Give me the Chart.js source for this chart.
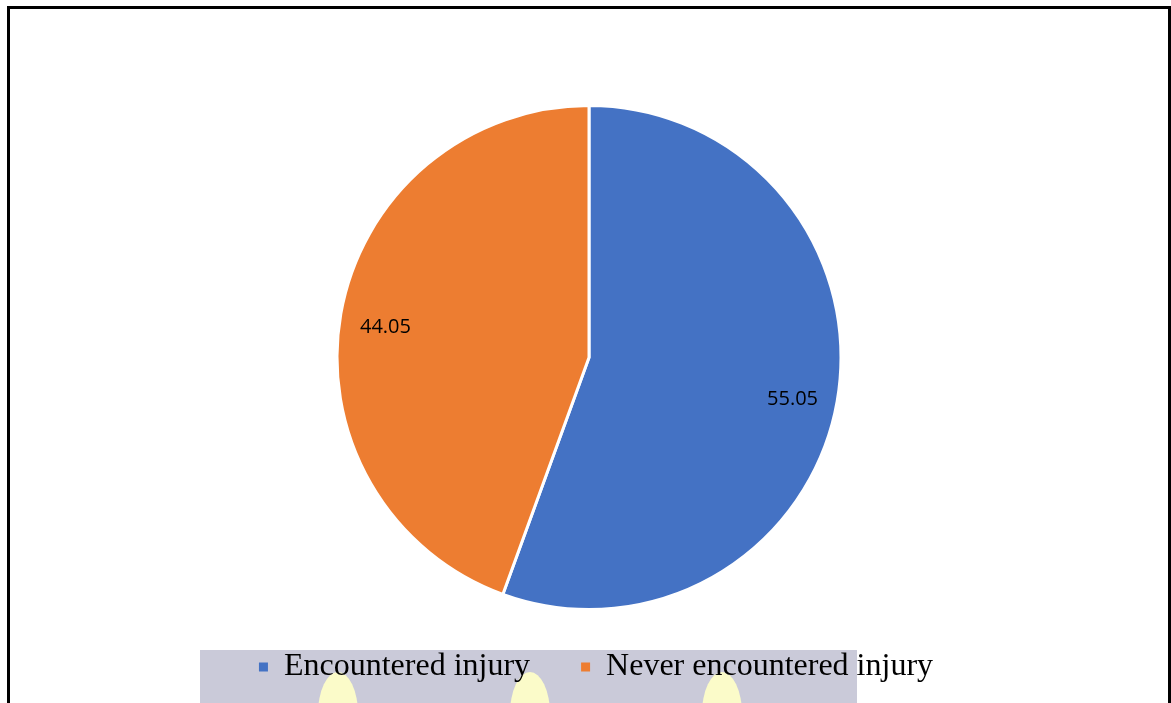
<!DOCTYPE html>
<html>
<head>
<meta charset="utf-8">
<script src="https://cdn.jsdelivr.net/npm/chart.js@4.4.1/dist/chart.umd.min.js"></script>
<style>
    html, body { margin: 0; padding: 0; background: #fff; overflow: hidden; }
    #wrap { position: absolute; left: 0; top: 0; width: 1171px; height: 703px; }
    #frame {
        position: absolute; left: 7px; top: 6px; width: 1158px; height: 720px;
        border: 3px solid #000; pointer-events: none;
    }
</style>
</head>
<body>
<div id="wrap">
    <canvas id="chart" width="1171" height="703"></canvas>
    <div id="frame"></div>
</div>
<script>
const labels = ['Encountered injury', 'Never encountered injury'];
const values = [55.05, 44.05];
const colors = ['#4472C4', '#ED7D31'];

// grey band behind the legend (scan artefact in the original)
const bandPlugin = {
    id: 'band',
    beforeDraw(chart) {
        const ctx = chart.ctx;
        ctx.save();
        ctx.fillStyle = '#cacad9';
        ctx.fillRect(200, 650, 657, 60);
        ctx.fillStyle = '#fbfbc9';
        [338, 530, 722].forEach(x => {
            ctx.beginPath();
            ctx.ellipse(x, 714, 20, 42, 0, 0, Math.PI * 2);
            ctx.fill();
        });
        ctx.restore();
    },
    afterLayout(chart) {
        // legend sits a little right of centre in the original;
        // the wide item padding also pads it vertically, so pull it back up
        chart.legend.left += 7;
        chart.legend.right += 7;
        chart.legend.top -= 11;
        chart.legend.bottom -= 11;
    }
};

// value labels placed near the outer edge of each slice
const valueLabels = {
    id: 'valueLabels',
    afterDatasetsDraw(chart) {
        const ctx = chart.ctx;
        const meta = chart.getDatasetMeta(0);
        ctx.save();
        ctx.font = '20px "Open Sans"';
        ctx.fillStyle = '#000';
        ctx.textAlign = 'center';
        ctx.textBaseline = 'middle';
        meta.data.forEach((arc, i) => {
            const p = arc.getProps(['x', 'y', 'startAngle', 'endAngle', 'outerRadius']);
            const mid = (p.startAngle + p.endAngle) / 2;
            const r = p.outerRadius * 0.82;
            ctx.fillText(values[i].toFixed(2), p.x + Math.cos(mid) * r, p.y + Math.sin(mid) * r + 6);
        });
        ctx.restore();
    }
};

new Chart(document.getElementById('chart'), {
    type: 'pie',
    data: {
        labels: labels,
        datasets: [{
            data: values,
            backgroundColor: colors,
            borderColor: '#fff',
            borderWidth: 3
        }]
    },
    options: {
        responsive: false,
        animation: false,
        layout: { padding: { top: 104, left: 7, bottom: -1 } },
        plugins: {
            tooltip: { enabled: false },
            legend: {
                position: 'bottom',
                labels: {
                    font: { family: '"Liberation Serif", "Times New Roman", serif', size: 32 },
                    color: '#000',
                    boxWidth: 9,
                    boxHeight: 9,
                    padding: 51,
                    generateLabels: chart => labels.map((text, i) => ({
                        text: text,
                        fillStyle: colors[i],
                        strokeStyle: colors[i],
                        lineWidth: 0,
                        fontColor: '#000',
                        index: i
                    }))
                }
            }
        }
    },
    plugins: [bandPlugin, valueLabels]
});
</script>
</body>
</html>
